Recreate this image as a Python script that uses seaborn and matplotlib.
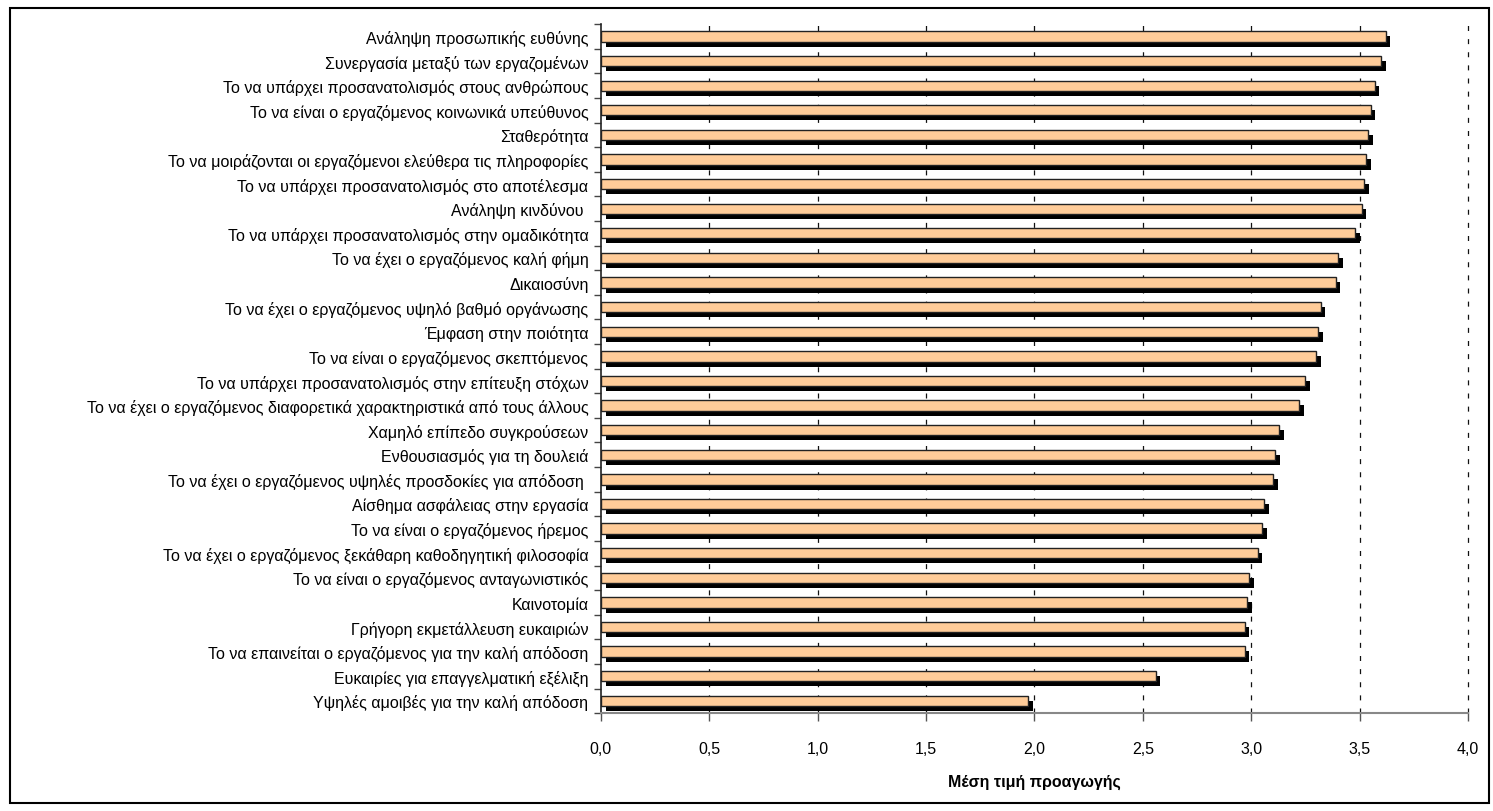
import numpy as np
import pandas as pd
import matplotlib
matplotlib.use('Agg')
import matplotlib.pyplot as plt
import matplotlib.patheffects as pe
from matplotlib.patches import Rectangle
from matplotlib.ticker import FuncFormatter, FixedLocator
import seaborn as sns

labels = [
    'Ανάληψη προσωπικής ευθύνης',
    'Συνεργασία μεταξύ των εργαζομένων',
    'Το να υπάρχει προσανατολισμός στους ανθρώπους',
    'Το να είναι ο εργαζόμενος κοινωνικά υπεύθυνος',
    'Σταθερότητα',
    'Το να μοιράζονται οι εργαζόμενοι ελεύθερα τις πληροφορίες',
    'Το να υπάρχει προσανατολισμός στο αποτέλεσμα',
    'Ανάληψη κινδύνου ',
    'Το να υπάρχει προσανατολισμός στην ομαδικότητα',
    'Το να έχει ο εργαζόμενος καλή φήμη',
    'Δικαιοσύνη',
    'Το να έχει ο εργαζόμενος υψηλό βαθμό οργάνωσης',
    'Έμφαση στην ποιότητα',
    'Το να είναι ο εργαζόμενος σκεπτόμενος',
    'Το να υπάρχει προσανατολισμός στην επίτευξη στόχων',
    'Το να έχει ο εργαζόμενος διαφορετικά χαρακτηριστικά από τους άλλους',
    'Χαμηλό επίπεδο συγκρούσεων',
    'Ενθουσιασμός για τη δουλειά',
    'Το να έχει ο εργαζόμενος υψηλές προσδοκίες για απόδοση ',
    'Αίσθημα ασφάλειας στην εργασία',
    'Το να είναι ο εργαζόμενος ήρεμος',
    'Το να έχει ο εργαζόμενος ξεκάθαρη καθοδηγητική φιλοσοφία',
    'Το να είναι ο εργαζόμενος ανταγωνιστικός',
    'Καινοτομία',
    'Γρήγορη εκμετάλλευση ευκαιριών',
    'Το να επαινείται ο εργαζόμενος για την καλή απόδοση',
    'Ευκαιρίες για επαγγελματική εξέλιξη',
    'Υψηλές αμοιβές για την καλή απόδοση',
]
values = [3.62, 3.60, 3.57, 3.55, 3.54, 3.53, 3.52, 3.51, 3.48, 3.40,
          3.39, 3.32, 3.31, 3.30, 3.25, 3.22, 3.13, 3.11, 3.10, 3.06,
          3.05, 3.03, 2.99, 2.98, 2.97, 2.97, 2.56, 1.97]
x_ticks = [0.0, 0.5, 1.0, 1.5, 2.0, 2.5, 3.0, 3.5, 4.0]

df = pd.DataFrame({'label': labels, 'value': values})

sns.set_style('white')
plt.rcParams['font.family'] = ['Liberation Sans', 'DejaVu Sans']
plt.rcParams['text.color'] = 'black'
plt.rcParams['axes.labelcolor'] = 'black'

fig = plt.figure(figsize=(14.93, 8.12), dpi=100)
ax = fig.add_axes([0.4025, 0.1205, 0.5808, 0.8485])

sns.barplot(data=df, x='value', y='label', orient='h', color='#FFCC99',
            saturation=1, width=0.42, edgecolor='#222222', linewidth=1,
            errorbar=None, ax=ax, zorder=3)
for bar in ax.patches:
    bar.set_path_effects([
        pe.SimplePatchShadow(offset=(3.3, -3.6), shadow_rgbFace='black', alpha=1),
        pe.Normal()])

ax.set_xlim(0, 4)
ax.set_ylim(len(labels) - 0.5, -0.5)
ax.xaxis.set_major_locator(FixedLocator(x_ticks))
ax.xaxis.set_major_formatter(FuncFormatter(lambda v, p: f'{v:.1f}'.replace('.', ',')))
for xv in x_ticks[1:]:
    ax.axvline(xv, color='#111111', lw=0.9, ls=(0, (4, 6.5)), zorder=1, clip_on=False)

ax.yaxis.set_minor_locator(FixedLocator(np.arange(-0.5, len(labels), 1.0)))
ax.tick_params(axis='y', which='major', length=0, pad=9, labelsize=11.5,
               labelcolor='black')
ax.tick_params(axis='y', which='minor', length=5, width=1, color='#444444', left=True)
ax.tick_params(axis='x', which='major', length=6, width=1, color='#555555',
               bottom=True, labelsize=11.5, pad=14, labelcolor='black')

for side in ['top', 'right']:
    ax.spines[side].set_visible(False)
ax.spines['left'].set_color('#222222')
ax.spines['bottom'].set_color('#888888')
ax.spines['left'].set_linewidth(1.2)
ax.spines['bottom'].set_linewidth(1.5)

ax.set_ylabel('')
ax.set_xlabel('Μέση τιμή προαγωγής', fontsize=11.5, fontweight='bold', labelpad=13)

fig.patches.append(Rectangle((0.0065, 0.01), 0.9905, 0.9795, transform=fig.transFigure,
                             fill=False, edgecolor='black', linewidth=1.5))

fig.savefig('out.png', dpi=100)
